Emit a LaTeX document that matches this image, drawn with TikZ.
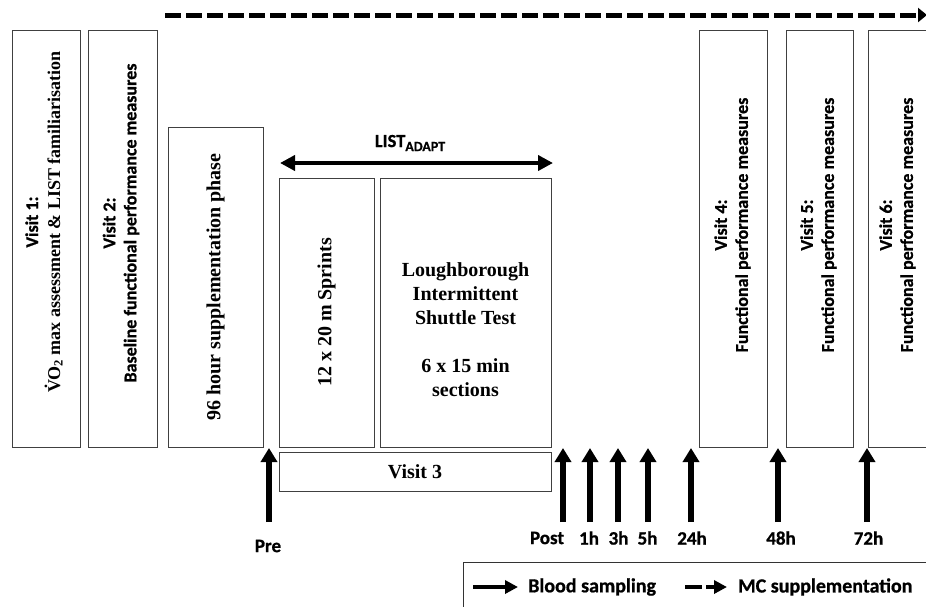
\documentclass[tikz,border=0pt]{standalone}
\usepackage{fontspec}
\setmainfont{Liberation Serif}
\newfontfamily\carl[BoldFeatures={FakeBold=0.8}]{Carlito}
\usetikzlibrary{arrows.meta}
\begin{document}
\begin{tikzpicture}[x=1pt,y=-1pt,
  box/.style={draw=black!75, line width=0.8pt, inner sep=0pt},
  rbox/.style={box, rotate=90},
  vtext/.style={rotate=90, align=center, inner sep=0pt, font=\carl\bfseries\fontsize{18}{21}\selectfont},
  ttext/.style={align=center, font=\bfseries\fontsize{20}{24}\selectfont},
  blood/.style={line width=5.5pt, -{Triangle[width=16pt,length=14pt]}},
  tlabel/.style={font=\carl\bfseries\fontsize{19}{22}\selectfont},
  legtext/.style={anchor=west, inner sep=0pt, font=\carl\bfseries\fontsize{20}{22}\selectfont},
]
\useasboundingbox (0,0) rectangle (926,606);

% top dashed supplementation arrow
\coordinate (ds) at (165,15);
\coordinate (de) at (927,15);
\draw[line width=5pt, dash pattern=on 16pt off 5pt, -{Triangle[width=14pt,length=9pt]}] (ds) -- (de);

% Visit 1 and 2
\node[rbox, minimum width=417pt, minimum height=68pt] (b1) at (46,238.5) {};
\node[vtext] (t1) at (44,222) {Visit 1:\\[1pt]{\rmfamily\fontsize{18}{21}\selectfont \.{V}O\textsubscript{2} max assessment \& LIST familiarisation}};
\node[rbox, minimum width=417pt, minimum height=69pt] (b2) at (122.5,238.5) {};
\node[vtext] (t2) at (121,223) {Visit 2:\\Baseline functional performance measures};

% 96 hour phase
\node[rbox, minimum width=320pt, minimum height=95pt, ttext] (b3) at (215.5,287) {96 hour\ supplementation\ phase};

% LIST adapt
\coordinate (la) at (280,163);
\coordinate (lb) at (553,163);
\draw[line width=4pt, {Triangle[width=15pt,length=15pt]}-{Triangle[width=15pt,length=15pt]}] (la) -- (lb);
\node[font=\carl\bfseries\fontsize{18.5}{20}\selectfont] (lt) at (410,143) {LIST\raisebox{-4pt}{\fontsize{14}{14}\selectfont ADAPT}};

\node[rbox, minimum width=269pt, minimum height=95pt, ttext] (sp) at (326.5,312.5) {12 x 20 m Sprints};
\node[box, minimum width=171pt, minimum height=269pt] (ls) at (465.5,312.5) {};
\node[ttext] (lst) at (465.5,330) {Loughborough\\Intermittent\\Shuttle Test\\[24pt]6 x 15 min\\sections};
\node[box, minimum width=272pt, minimum height=39pt, ttext] (v3) at (415,471.5) {Visit 3};

% Visits 4-6
\node[rbox, minimum width=417pt, minimum height=68pt] (b4) at (733,238.5) {};
\node[vtext] (t4) at (732.5,225) {Visit 4:\\Functional performance measures};
\node[rbox, minimum width=417pt, minimum height=67pt] (b5) at (819.5,238.5) {};
\node[vtext] (t5) at (818.5,225) {Visit 5:\\Functional performance measures};
\node[rbox, minimum width=417pt, minimum height=68pt] (b6) at (902,238.5) {};
\node[vtext] (t6) at (897.5,225) {Visit 6:\\Functional performance measures};

% blood sampling arrows
\foreach \n/\x/\lx/\ly/\t in {pre/269/268/546/Pre, post/563/547/538/Post, h1/590/589/538/1h, h3/618/618.5/538/3h, h5/648/647.5/538/5h, h24/691/692/538/24h, h48/778/781/538/48h, h72/867/868.5/538/72h}{
  \coordinate (\n-b) at (\x,522);
  \coordinate (\n-t) at (\x,448);
  \draw[blood] (\n-b) -- (\n-t);
  \node[tlabel] (\n-l) at (\lx,\ly) {\t};
}

% legend
\coordinate (lg1) at (463,612);
\coordinate (lg2) at (932,562);
\draw[black!80, line width=0.9pt] (lg1) |- (lg2);
\coordinate (sa) at (473,587);
\coordinate (sb) at (518,587);
\draw[line width=4pt, -{Triangle[width=13pt,length=13pt]}] (sa) -- (sb);
\node[legtext] (bl) at (528,587) {Blood sampling};
\coordinate (da) at (685,587);
\coordinate (db) at (727,587);
\draw[line width=4pt, dash pattern=on 17pt off 4pt, -{Triangle[width=13pt,length=13pt]}] (da) -- (db);
\node[legtext] (mc) at (738,587) {MC supplementation};
\end{tikzpicture}
\end{document}
